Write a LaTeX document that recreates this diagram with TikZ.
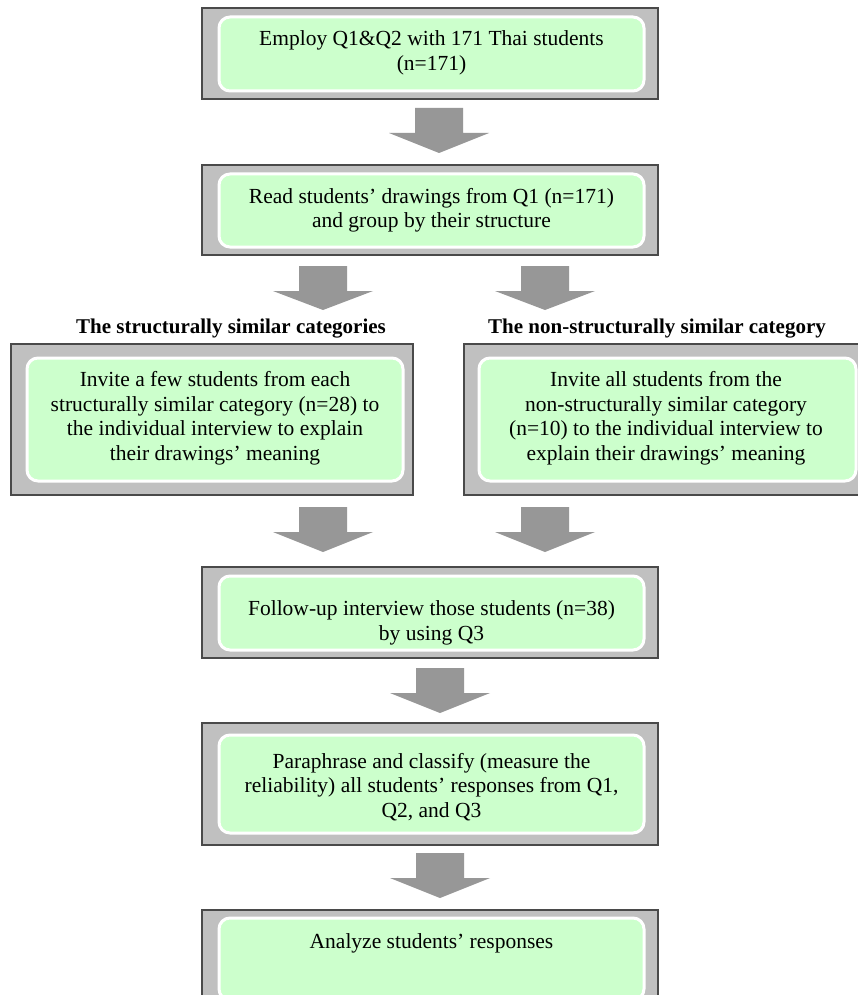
\documentclass[tikz,border=0pt]{standalone}
\usepackage{fontspec}
\setmainfont{Liberation Serif}
\definecolor{outergray}{HTML}{C0C0C0}
\definecolor{edgegray}{HTML}{4A4A4A}
\definecolor{innergreen}{HTML}{CCFFCC}
\definecolor{arrowgray}{HTML}{979797}
\tikzset{
  outerbox/.style={fill=outergray, draw=edgegray, line width=1.2pt},
  innerbox/.style={fill=innergreen, draw=white, line width=3pt, rounded corners=11pt},
  boxtext/.style={align=center, font=\fontsize{21.5}{24.5}\selectfont, text=black, inner sep=0pt},
  headtext/.style={font=\bfseries\fontsize{21}{23}\selectfont, inner sep=0pt, anchor=base},
  blockarrow/.style={fill=arrowgray, draw=none}
}
\newcommand\blockarr[4]{%
  \fill[blockarrow] (#1-24,#2) -- (#1+24,#2) -- (#1+24,#3) -- (#1+50,#3) -- (#1,#4)
    -- (#1-50,#3) -- (#1-24,#3) -- cycle;}
\begin{document}
\begin{tikzpicture}[x=1pt,y=-1pt]
\useasboundingbox (0,0) rectangle (858,995);
\clip (0,0) rectangle (858,995);
\fill[white] (0,0) rectangle (858,995);

% box 1
\draw[outerbox] (202,8) rectangle (658,99);
\draw[innerbox] (219,17) rectangle (644,91);
\node[boxtext] (t1) at (431.5,53) {Employ Q1\&Q2 with 171 Thai students\\(n=171)};

\blockarr{439}{108}{133}{153}

% box 2
\draw[outerbox] (202,165) rectangle (658,255);
\draw[innerbox] (219,174) rectangle (644,247);
\node[boxtext] (t2) at (431.5,210.5) {Read students’ drawings from Q1 (n=171)\\and group by their structure};

\blockarr{323}{266}{291}{310}
\blockarr{545}{266}{291}{310}

% labels
\node[headtext] (h1) at (231,333) {The structurally similar categories};
\node[headtext] (h2) at (657,333) {The non-structurally similar category};

% box 3 left
\draw[outerbox] (11,344) rectangle (413,495);
\draw[innerbox] (27,358) rectangle (403,481);
\node[boxtext] (t3) at (215,418) {Invite a few students from each\\structurally similar category (n=28) to\\the individual interview to explain\\their drawings’ meaning};

% box 3 right
\draw[outerbox] (464,344) rectangle (866,495);
\draw[innerbox] (479,358) rectangle (856,481);
\node[boxtext] (t4) at (666,418) {Invite all students from the\\non-structurally similar category\\(n=10) to the individual interview to\\explain their drawings’ meaning};

\blockarr{323}{507}{532}{552}
\blockarr{545}{507}{532}{552}

% box 4
\draw[outerbox] (202,567) rectangle (658,658);
\draw[innerbox] (219,576) rectangle (644,650);
\node[boxtext] (t5) at (431.5,623) {Follow-up interview those students (n=38)\\by using Q3};

\blockarr{440}{668}{693}{713}

% box 5
\draw[outerbox] (202,723) rectangle (658,845);
\draw[innerbox] (219,735) rectangle (644,833);
\node[boxtext] (t6) at (431.5,787) {Paraphrase and classify (measure the\\reliability) all students’ responses from Q1,\\Q2, and Q3};

\blockarr{440}{853}{878}{898}

% box 6
\draw[outerbox] (202,910) rectangle (658,1010);
\draw[innerbox] (219,918) rectangle (644,1000);
\node[boxtext, anchor=base] (t7) at (431.5,948) {Analyze students’ responses};
\end{tikzpicture}
\end{document}
